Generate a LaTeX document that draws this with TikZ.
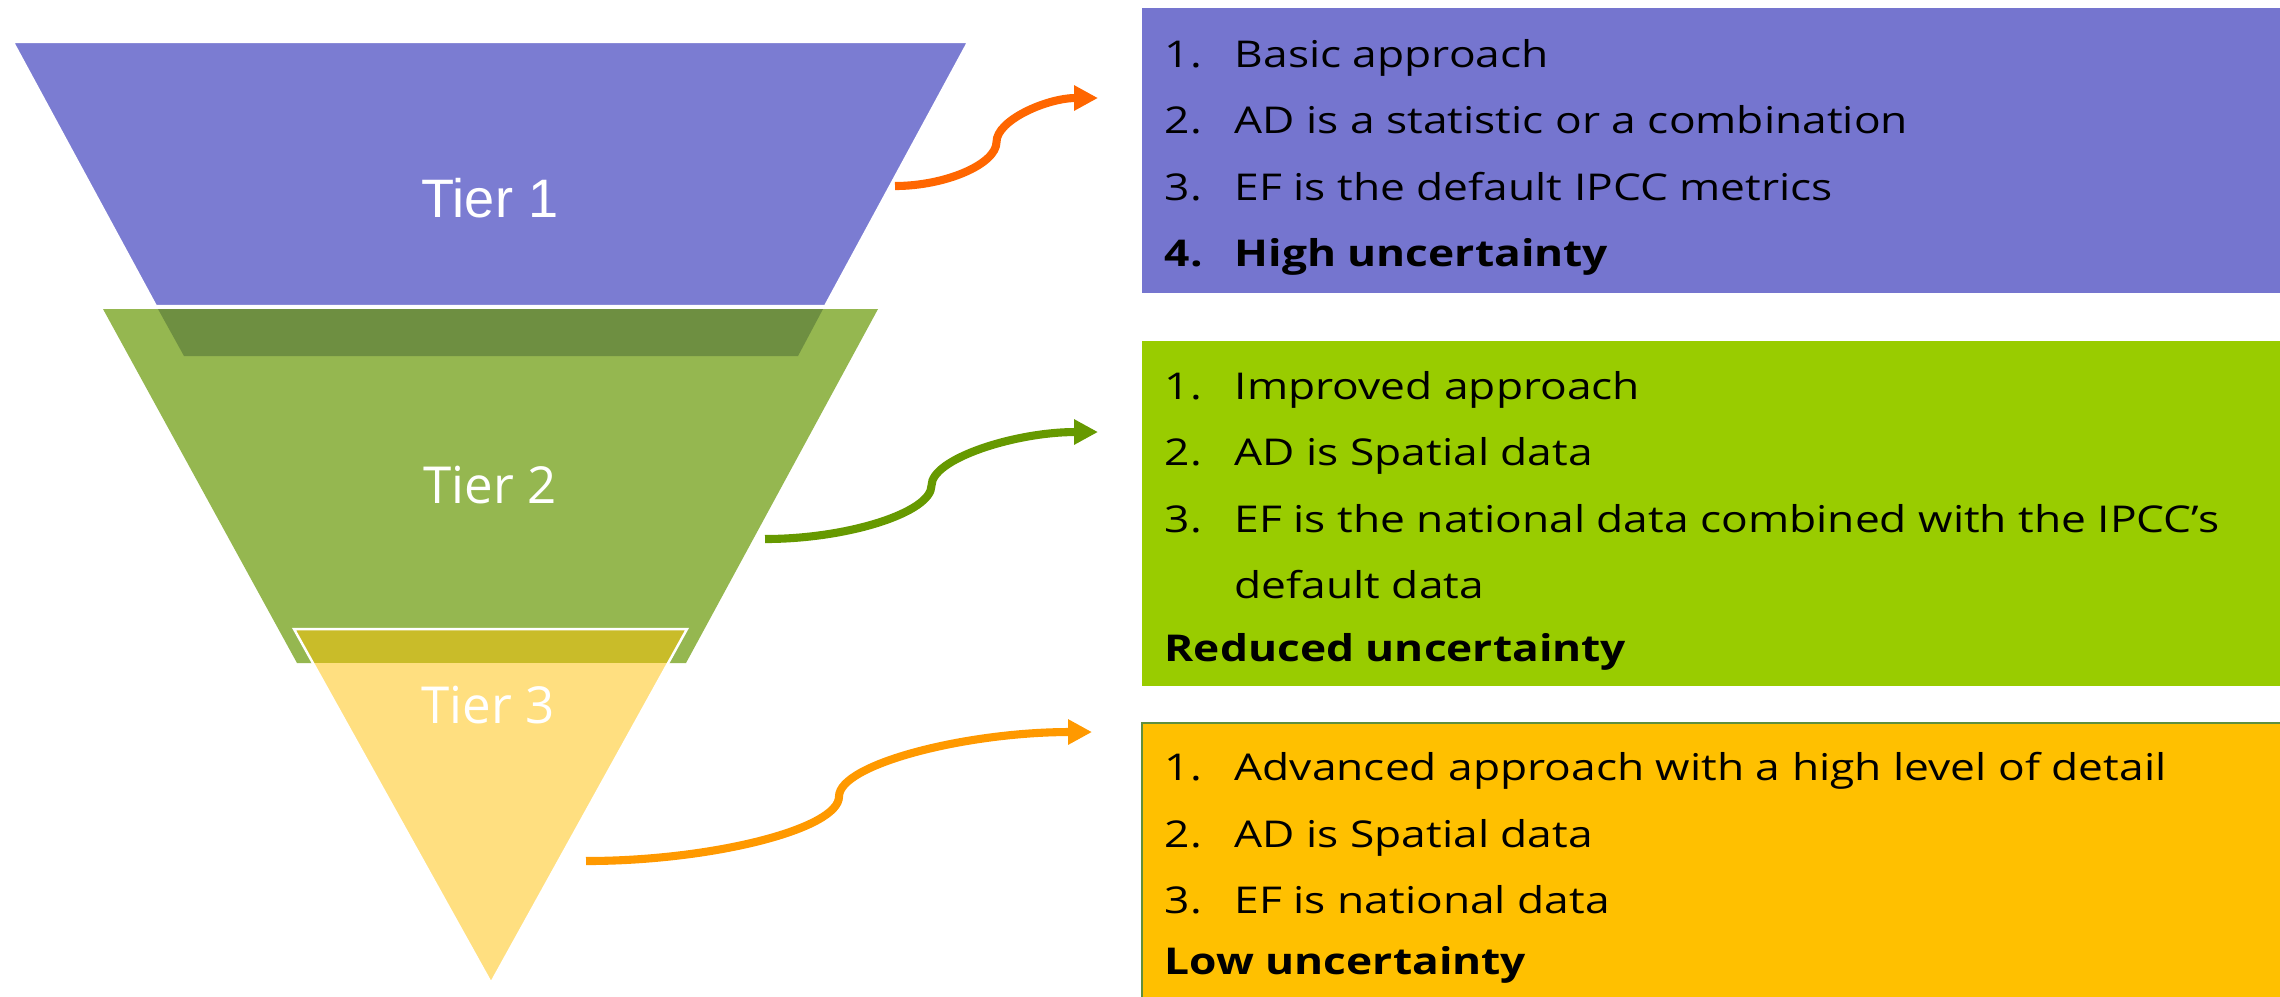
\documentclass[tikz,border=0pt]{standalone}
\usepackage{fontspec}
\setmainfont{Open Sans}
\newfontfamily\tierfont{Liberation Sans}
\newfontfamily\listfont{Open Sans}[FakeStretch=1.2]
\usetikzlibrary{calc,arrows.meta}
\definecolor{tierone}{HTML}{7B7CD2}
\definecolor{tiertwo}{HTML}{95B750}
\definecolor{tierthree}{HTML}{FFDF80}
\definecolor{shadeone}{HTML}{6E8F41}
\definecolor{shadetwo}{HTML}{C9BC29}
\definecolor{boxone}{HTML}{7575CF}
\definecolor{boxtwo}{HTML}{99CC00}
\definecolor{boxthree}{HTML}{FFC000}
\definecolor{boxline}{HTML}{5F8F3E}
\definecolor{arrowone}{HTML}{FF6600}
\definecolor{arrowtwo}{HTML}{669900}
\definecolor{arrowthree}{HTML}{FF9900}
\begin{document}
\begin{tikzpicture}[x=0.01cm,y=-0.01cm,
    tierlabel/.style={text=white,anchor=base,inner sep=0pt},
    listbox/.style={anchor=north west,minimum width=11.39cm,inner sep=0pt},
    listnum/.style={anchor=base west,inner sep=0pt,font=\listfont\fontsize{10.5}{12}\selectfont},
    listbold/.style={listnum,font=\listfont\bfseries\fontsize{10.5}{12}\selectfont},
    link/.style={line width=2.3pt,-{Triangle[length=6.8pt,width=6.8pt]}}]
    \useasboundingbox (0,0) rectangle (2280,996);
    %画漏斗
    \filldraw[fill=tierone,draw=white,line width=0.6pt] (13,42) -- (968,42) -- (825,306) -- (156,306) -- cycle;
    \fill[tiertwo] (103,309) -- (878,309) -- (686,663) -- (297,663) -- cycle;
    \fill[shadeone] (158,309) -- (823,309) -- (798,356) -- (184,356) -- cycle;
    \fill[tierthree] (294,629) -- (687,629) -- (491,983) -- cycle;
    \begin{scope}
        \clip (294,629) -- (687,629) -- (491,983) -- cycle;
        \fill[shadetwo] (280,620) rectangle (700,663);
    \end{scope}
    \draw[white,line width=0.7pt] (294,629) -- (687,629) -- (491,983) -- cycle;
    %标层级
    \node[tierlabel,font=\tierfont\fontsize{15.4}{18}\selectfont] (tier1) at (490,217) {Tier 1};
    \node[tierlabel,font=\fontsize{14.5}{17}\selectfont] (tier2) at (490,503) {Tier 2};
    \node[tierlabel,font=\fontsize{14.5}{17}\selectfont] (tier3) at (488,723) {Tier 3};
    %画右边的框
    \node[listbox,fill=boxone,minimum height=2.85cm] (box1) at (1141,7) {};
    \node[listbox,fill=boxtwo,minimum height=3.45cm] (box2) at (1141,340) {};
    \node[listbox,fill=boxthree,draw=boxline,line width=0.6pt,minimum height=2.8cm] (box3) at (1141,722) {};
    %框里的文字
    \foreach \y/\lbl/\txt [count=\i] in {67/1./Basic approach,133/2./AD is a statistic or a combination,200/3./EF is the default IPCC metrics}
    {
        \node[listnum] (n1\i) at (1164,\y) {\lbl};
        \node[listnum] (t1\i) at (1234,\y) {\txt};
    }
    \node[listbold] (n14) at (1164,266) {4.};
    \node[listbold] (t14) at (1234,266) {High uncertainty};
    \foreach \y/\lbl/\txt [count=\i] in {399/1./Improved approach,465/2./AD is Spatial data,532/3./EF is the national data combined with the IPCC’s}
    {
        \node[listnum] (n2\i) at (1164,\y) {\lbl};
        \node[listnum] (t2\i) at (1234,\y) {\txt};
    }
    \node[listnum] (t24) at (1234,598) {default data};
    \node[listbold] (t25) at (1164,661) {Reduced uncertainty};
    \foreach \y/\lbl/\txt [count=\i] in {780/1./Advanced approach with a high level of detail,847/2./AD is Spatial data,913/3./EF is national data}
    {
        \node[listnum] (n3\i) at (1164,\y) {\lbl};
        \node[listnum] (t3\i) at (1234,\y) {\txt};
    }
    \node[listbold] (t34) at (1164,974) {Low uncertainty};
    %画箭头
    \coordinate (s1) at (895,186);
    \coordinate (e1) at (1098,98);
    \coordinate (s2) at (765,539);
    \coordinate (e2) at (1098,432);
    \coordinate (s3) at (586,861);
    \coordinate (e3) at (1092,732);
    \foreach \k/\col in {1/arrowone,2/arrowtwo,3/arrowthree}
    {
        \path ($(s\k)!0.25!(e\k)$) coordinate (q\k) ($(s\k)!0.5!(e\k)$) coordinate (m\k) ($(s\k)!0.75!(e\k)$) coordinate (r\k);
        \draw[link,\col] (s\k) .. controls (q\k |- s\k) and (m\k |- q\k) .. (m\k) .. controls (m\k |- r\k) and (r\k |- e\k) .. (e\k);
    }
\end{tikzpicture}
\end{document}
